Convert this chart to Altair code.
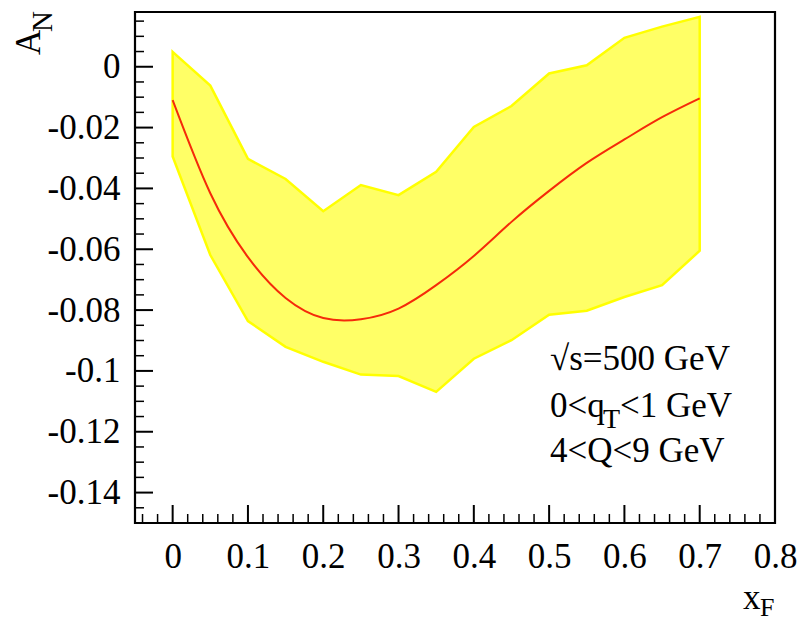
import altair as alt
import pandas as pd

# x_F sampling points of the uncertainty band and the central curve
xf = [0.0, 0.05, 0.10, 0.15, 0.20, 0.25, 0.30, 0.35, 0.40, 0.45, 0.50, 0.55, 0.60, 0.65, 0.70]
band_upper = [0.0049, -0.0062, -0.0303, -0.0369, -0.0475, -0.0389, -0.0422, -0.0345,
              -0.0198, -0.0129, -0.0022, 0.0005, 0.0095, 0.0132, 0.0164]
band_lower = [-0.0295, -0.0619, -0.0836, -0.0921, -0.0970, -0.1012, -0.1017, -0.1069,
              -0.0960, -0.0899, -0.0815, -0.0802, -0.0757, -0.0718, -0.0605]
central = [-0.0110, -0.0416, -0.0626, -0.0760, -0.0826, -0.0830, -0.0795, -0.0718,
           -0.0622, -0.0510, -0.0408, -0.0316, -0.0239, -0.0166, -0.0104]

# axis ranges and ticks
x_domain = [-0.05, 0.8]
y_domain = [-0.15, 0.018]
x_major = [0.0, 0.1, 0.2, 0.3, 0.4, 0.5, 0.6, 0.7, 0.8]
x_minor = [round(-0.04 + 0.02 * i, 2) for i in range(43) if round(-0.04 + 0.02 * i, 2) not in x_major]
y_major = [0.0, -0.02, -0.04, -0.06, -0.08, -0.10, -0.12, -0.14]
y_minor = [round(0.015 - 0.005 * i, 3) for i in range(34) if round(0.015 - 0.005 * i, 3) not in y_major]

SERIF = "Liberation Serif"
W, H = 640, 511

df = pd.DataFrame({"xf": xf, "lo": band_lower, "hi": band_upper, "an": central})

xs = alt.Scale(domain=x_domain, nice=False, zero=False)
ys = alt.Scale(domain=y_domain, nice=False, zero=False)

num_label = "(datum.value < 0 ? '-' : '') + format(abs(datum.value), '.2~f')"

x_axis = alt.Axis(values=x_major, ticks=False, domain=False, grid=False, title=None,
                  labelFont=SERIF, labelFontSize=35, labelColor="black",
                  labelPadding=16, labelExpr=num_label, labelFlush=False)
y_axis = alt.Axis(values=y_major, ticks=False, domain=False, grid=False, title=None,
                  labelFont=SERIF, labelFontSize=35, labelColor="black",
                  labelPadding=15, labelExpr=num_label)

band = alt.Chart(df).mark_area(
    color="#ffff00", fillOpacity=0.6, stroke="#ffff00", strokeWidth=2.5,
    strokeOpacity=1, interpolate="linear"
).encode(
    x=alt.X("xf:Q", scale=xs, axis=x_axis),
    y=alt.Y("hi:Q", scale=ys, axis=y_axis),
    y2="lo:Q",
)

curve = alt.Chart(df).mark_line(color="#f52a0a", strokeWidth=2, interpolate="natural").encode(
    x=alt.X("xf:Q", scale=xs),
    y=alt.Y("an:Q", scale=ys),
)

# plot frame
frame = alt.Chart(alt.Data(values=[{}])).mark_rect(
    fill=None, fillOpacity=0, stroke="black", strokeWidth=2.2, strokeOpacity=1, opacity=1
).encode(x=alt.value(0), x2=alt.value(W), y=alt.value(0), y2=alt.value(H))


def ticks_x(vals, length, width):
    return alt.Chart(pd.DataFrame({"v": vals})).mark_rule(color="black", strokeWidth=width).encode(
        x=alt.X("v:Q", scale=xs), y=alt.value(H), y2=alt.value(H - length)
    )


def ticks_y(vals, length, width):
    return alt.Chart(pd.DataFrame({"v": vals})).mark_rule(color="black", strokeWidth=width).encode(
        y=alt.Y("v:Q", scale=ys), x=alt.value(0), x2=alt.value(length)
    )


def label(text, x, y, size=35, angle=0):
    return alt.Chart(alt.Data(values=[{}])).mark_text(
        text=text, font=SERIF, fontSize=size, align="left", baseline="alphabetic",
        angle=angle, color="black"
    ).encode(x=alt.value(x), y=alt.value(y))


texts = [
    label("\u221as=500 GeV", 415, 358),
    label("0<q", 415, 405),
    label("T", 468, 416, size=28),
    label("<1 GeV", 485, 405),
    label("4<Q<9 GeV", 415, 450),
    label("A", -95, 43, angle=270),
    label("N", -83, 20, size=29, angle=270),
    label("x", 608, 597),
    label("F", 625, 604, size=26),
]

chart = alt.layer(
    band, curve,
    ticks_x(x_major, 18, 2), ticks_x(x_minor, 9, 1.5),
    ticks_y(y_major, 18, 2), ticks_y(y_minor, 9, 1.5),
    frame,
    *texts,
).properties(
    width=W, height=H,
    autosize=alt.AutoSizeParams(type="none"),
    padding={"left": 135, "top": 12, "right": 30, "bottom": 100},
).configure_view(
    stroke=None
).configure(background="white")

chart.save("out.html", embed_options={"renderer": "svg", "actions": False})
